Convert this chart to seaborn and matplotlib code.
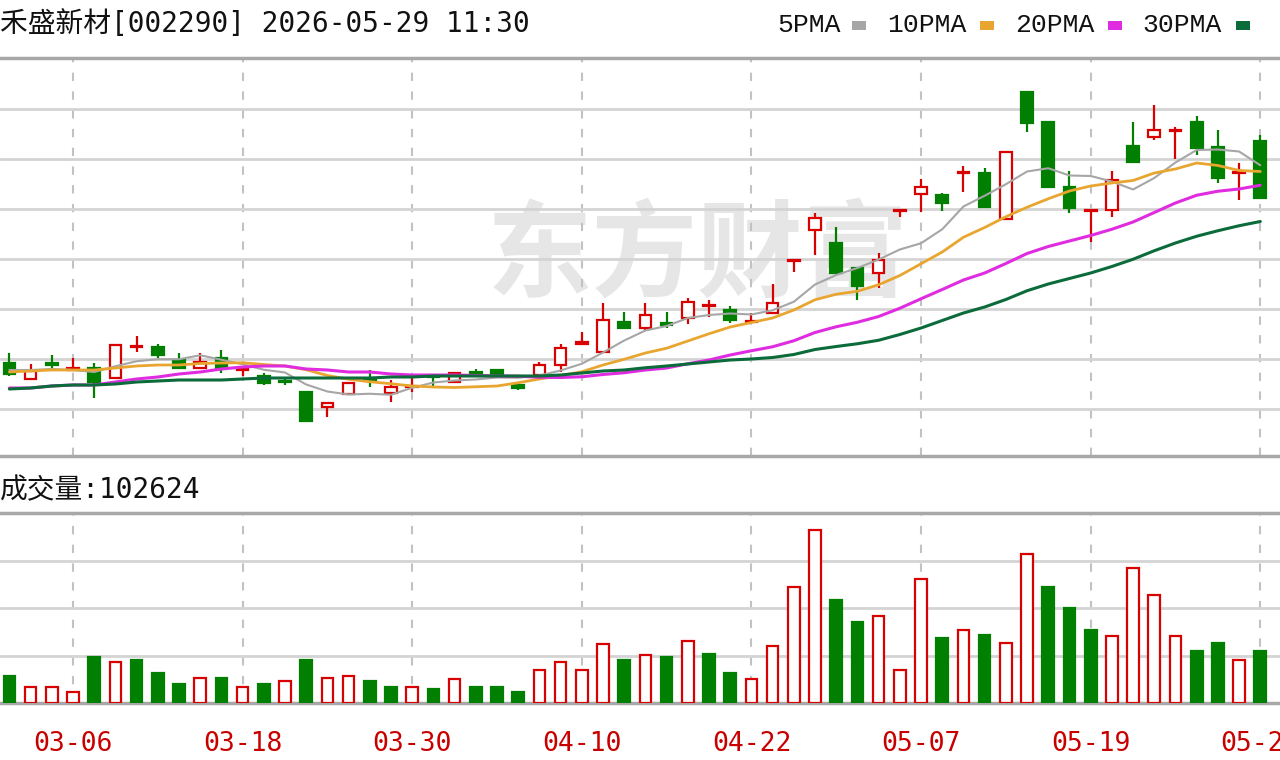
import numpy as np
import pandas as pd
import matplotlib
matplotlib.use('Agg')
import matplotlib.pyplot as plt
import seaborn as sns
from matplotlib.patches import Rectangle

sns.set_theme(style='white')
plt.rcParams['font.family'] = ['DejaVu Sans Mono', 'Noto Sans CJK SC']

# data (price scale is arbitrary, no axis labels shown)
dates = ['03-03', '03-04', '03-05', '03-06', '03-09', '03-10', '03-11', '03-12', '03-13', '03-16',
         '03-17', '03-18', '03-19', '03-20', '03-23', '03-24', '03-25', '03-26', '03-27', '03-30',
         '03-31', '04-01', '04-02', '04-03', '04-07', '04-08', '04-09', '04-10', '04-13', '04-14',
         '04-15', '04-16', '04-17', '04-20', '04-21', '04-22', '04-23', '04-24', '04-27', '04-28',
         '04-29', '04-30', '05-06', '05-07', '05-08', '05-11', '05-12', '05-13', '05-14', '05-15',
         '05-18', '05-19', '05-20', '05-21', '05-22', '05-25', '05-26', '05-27', '05-28', '05-29']
tick_dates = ['03-06', '03-18', '03-30', '04-10', '04-22', '05-07', '05-19', '05-29']

opens = [29.84, 29.20, 29.84, 29.56, 29.64, 29.24, 30.48, 30.48, 29.96, 29.64,
         30.04, 29.56, 29.32, 29.12, 28.68, 28.08, 28.60, 29.20, 28.64, 28.88,
         29.32, 29.08, 29.48, 29.56, 28.96, 29.36, 29.76, 30.60, 30.28, 31.48,
         31.24, 31.44, 31.64, 32.12, 31.96, 31.48, 31.84, 33.92, 35.16, 34.64,
         33.64, 33.44, 35.92, 36.60, 36.56, 37.44, 37.44, 35.60, 40.68, 39.48,
         36.88, 35.92, 35.96, 38.52, 38.88, 39.12, 39.48, 38.48, 37.44, 38.72]
highs = [30.24, 29.80, 30.16, 30.04, 29.84, 30.60, 30.92, 30.60, 30.24, 30.24,
         30.36, 29.68, 29.44, 29.28, 28.72, 28.28, 29.08, 29.56, 29.16, 29.28,
         29.32, 29.48, 29.60, 29.56, 29.04, 29.88, 30.60, 31.08, 32.24, 31.88,
         32.24, 31.88, 32.44, 32.36, 32.12, 31.84, 33.00, 33.96, 35.84, 35.28,
         33.68, 34.24, 35.96, 37.20, 36.64, 37.72, 37.64, 38.28, 40.68, 39.48,
         37.52, 35.96, 37.52, 39.48, 40.16, 39.28, 39.72, 39.16, 37.84, 38.96]
lows = [29.32, 29.16, 29.64, 29.56, 28.44, 29.20, 30.28, 30.04, 29.60, 29.60,
        29.44, 29.32, 28.96, 28.96, 27.52, 27.68, 28.60, 28.88, 28.28, 28.68,
        28.92, 29.08, 29.36, 29.32, 28.76, 29.36, 29.48, 30.60, 30.28, 31.24,
        31.16, 31.24, 31.40, 31.68, 31.44, 31.48, 31.84, 33.48, 34.16, 33.44,
        32.36, 32.84, 35.68, 35.88, 35.92, 36.68, 36.08, 35.56, 39.08, 36.88,
        35.84, 34.68, 35.68, 37.88, 38.76, 38.00, 38.16, 37.04, 36.36, 36.44]
closes = [29.40, 29.52, 29.76, 29.64, 29.08, 30.56, 30.52, 30.16, 29.64, 29.88,
          29.64, 29.64, 29.04, 29.08, 27.52, 28.24, 29.04, 29.16, 28.88, 28.92,
          29.28, 29.44, 29.36, 29.32, 28.84, 29.76, 30.44, 30.68, 31.56, 31.24,
          31.76, 31.36, 32.28, 32.16, 31.56, 31.52, 32.24, 33.96, 35.64, 33.44,
          32.92, 33.96, 35.96, 36.88, 36.24, 37.48, 36.08, 38.28, 39.44, 36.88,
          36.04, 35.96, 37.16, 37.88, 39.16, 39.16, 38.44, 37.24, 37.48, 36.44]

ma5 = [29.56, 29.56, 29.60, 29.56, 29.48, 29.71, 29.91, 29.99, 29.99, 30.15,
       29.97, 29.79, 29.57, 29.46, 28.98, 28.70, 28.58, 28.61, 28.57, 28.85,
       29.06, 29.14, 29.18, 29.26, 29.25, 29.34, 29.54, 29.81, 30.26, 30.74,
       31.14, 31.32, 31.64, 31.76, 31.82, 31.78, 31.95, 32.29, 32.98, 33.36,
       33.64, 33.98, 34.38, 34.63, 35.19, 36.10, 36.53, 36.99, 37.50, 37.63,
       37.34, 37.32, 37.10, 36.78, 37.24, 37.86, 38.36, 38.38, 38.30, 37.75]
ma10 = [29.48, 29.52, 29.56, 29.56, 29.56, 29.64, 29.72, 29.76, 29.76, 29.82,
        29.84, 29.85, 29.78, 29.72, 29.57, 29.34, 29.19, 29.09, 29.01, 28.92,
        28.88, 28.86, 28.89, 28.92, 29.05, 29.20, 29.34, 29.49, 29.76, 29.99,
        30.24, 30.43, 30.72, 31.01, 31.28, 31.46, 31.64, 31.96, 32.37, 32.59,
        32.71, 32.97, 33.34, 33.81, 34.28, 34.87, 35.26, 35.69, 36.07, 36.41,
        36.72, 36.92, 37.04, 37.14, 37.44, 37.60, 37.84, 37.74, 37.54, 37.50]
ma20 = [28.84, 28.84, 28.92, 28.96, 28.96, 29.08, 29.20, 29.28, 29.40, 29.48,
        29.60, 29.68, 29.72, 29.72, 29.60, 29.56, 29.48, 29.48, 29.40, 29.36,
        29.36, 29.36, 29.34, 29.32, 29.31, 29.27, 29.26, 29.29, 29.38, 29.45,
        29.56, 29.64, 29.81, 29.96, 30.16, 30.33, 30.49, 30.73, 31.06, 31.29,
        31.47, 31.70, 32.03, 32.41, 32.78, 33.16, 33.44, 33.82, 34.22, 34.50,
        34.72, 34.94, 35.19, 35.48, 35.86, 36.24, 36.55, 36.71, 36.80, 36.95]
ma30 = [28.80, 28.84, 28.92, 28.96, 28.96, 29.00, 29.08, 29.12, 29.16, 29.16,
        29.16, 29.20, 29.24, 29.24, 29.24, 29.24, 29.24, 29.24, 29.28, 29.28,
        29.32, 29.32, 29.32, 29.32, 29.32, 29.32, 29.36, 29.44, 29.52, 29.56,
        29.65, 29.72, 29.80, 29.88, 29.96, 30.00, 30.06, 30.18, 30.38, 30.50,
        30.61, 30.75, 30.98, 31.24, 31.54, 31.84, 32.08, 32.38, 32.73, 33.00,
        33.22, 33.44, 33.70, 33.99, 34.33, 34.64, 34.91, 35.13, 35.33, 35.50]

volume = [53700, 32000, 32000, 21700, 91300, 81000, 85700, 59300, 38600, 49000,
          49000, 32000, 38600, 44300, 85700, 49000, 53700, 43300, 32000, 32000,
          27300, 47100, 32000, 32000, 22600, 65000, 81000, 65000, 117700, 85700,
          96000, 91300, 122400, 97000, 59300, 47100, 112000, 230700, 342700, 204300,
          161000, 172300, 65000, 246700, 129000, 145000, 134600, 118600, 295600, 230700,
          188300, 145000, 133700, 267400, 214700, 133700, 102600, 118600, 85700, 102624]
vol_up = [0, 1, 1, 1, 0, 1, 0, 0, 0, 1, 0, 1, 0, 1, 0, 1, 1, 0, 0, 1,
          0, 1, 0, 0, 0, 1, 1, 1, 1, 0, 1, 0, 1, 0, 0, 1, 1, 1, 1, 0,
          0, 1, 1, 1, 0, 1, 0, 1, 1, 0, 0, 0, 1, 1, 1, 1, 0, 0, 1, 0]

RED = '#d80000'
GREEN = '#007f00'
GRID = '#d4d4d4'
BORDER = '#a8a8a8'

df = pd.DataFrame({'date': dates, 'open': opens, 'high': highs, 'low': lows,
                   'close': closes, 'vol': volume, 'vol_up': vol_up})
df['idx'] = np.arange(len(df))
df['up'] = df['close'] >= df['open']
df['top'] = df[['open', 'close']].max(axis=1)
df['bot'] = df[['open', 'close']].min(axis=1)

ma = pd.DataFrame({'idx': df['idx'], '5PMA': ma5, '10PMA': ma10, '20PMA': ma20, '30PMA': ma30})
ma_colors = {'5PMA': '#a6a6a6', '10PMA': '#e8a630', '20PMA': '#e02ce0', '30PMA': '#0b6b3a'}
ma_widths = {'5PMA': 1.5, '10PMA': 2.0, '20PMA': 2.2, '30PMA': 2.2}

fig = plt.figure(figsize=(12.8, 7.6), dpi=100)
ax = fig.add_axes([0, 0.4, 1, 0.5237])
axv = fig.add_axes([0, 0.075, 1, 0.25])

xlim = (-0.443, 59.93)
tick_idx = [dates.index(d) for d in tick_dates]

# watermark
ax.text(0.545, 0.50, '东方财富', transform=ax.transAxes, ha='center', va='center',
        fontsize=76, fontweight='bold', color='#e6e6e6', family=['Noto Sans CJK SC'], zorder=0)

# candles
up = df[df['up']]
dn = df[~df['up']]
ax.vlines(up['idx'], up['top'], up['high'], color=RED, lw=1.6, zorder=3)
ax.vlines(up['idx'], up['low'], up['bot'], color=RED, lw=1.6, zorder=3)
ax.vlines(dn['idx'], dn['low'], dn['high'], color=GREEN, lw=1.6, zorder=3)
ax.bar(up['idx'], np.maximum(up['top'] - up['bot'], 0.03), bottom=up['bot'], width=0.55,
       facecolor='white', edgecolor=RED, linewidth=1.6, zorder=4)
ax.bar(dn['idx'], np.maximum(dn['top'] - dn['bot'], 0.03), bottom=dn['bot'], width=0.55,
       facecolor=GREEN, edgecolor=GREEN, linewidth=1.6, zorder=4)

# moving averages
for name in ['5PMA', '10PMA', '20PMA', '30PMA']:
    sns.lineplot(data=ma, x='idx', y=name, color=ma_colors[name], lw=ma_widths[name],
                 ax=ax, zorder=5)

ax.set_xlim(*xlim)
ax.set_ylim(26.12, 42.04)
ax.set_yticks(np.arange(28, 41, 2))
ax.set_xticks(tick_idx)
ax.grid(False)
ax.yaxis.grid(True, color=GRID, lw=2)
ax.xaxis.grid(True, color='#c2c2c2', lw=1.5, ls=(0, (4, 5)))
ax.tick_params(left=False, bottom=False, labelleft=False, labelbottom=False)
ax.set_xlabel('')
ax.set_ylabel('')

# volume
vup = df[df['vol_up'] == 1]
vdn = df[df['vol_up'] == 0]
axv.bar(vup['idx'], vup['vol'], width=0.55, facecolor='white', edgecolor=RED, linewidth=1.6, zorder=3)
axv.bar(vdn['idx'], vdn['vol'], width=0.55, facecolor=GREEN, edgecolor=GREEN, linewidth=1.6, zorder=3)
axv.set_xlim(*xlim)
axv.set_ylim(0, 376600)
axv.set_yticks([94150, 188300, 282450])
axv.set_xticks(tick_idx)
axv.set_xticklabels(tick_dates, color='#c80000', fontsize=19)
axv.grid(False)
axv.yaxis.grid(True, color=GRID, lw=2)
axv.xaxis.grid(True, color='#c2c2c2', lw=1.5, ls=(0, (4, 5)))
axv.tick_params(left=False, bottom=False, labelleft=False, pad=14)

for a in (ax, axv):
    for s in ('left', 'right'):
        a.spines[s].set_visible(False)
    for s in ('top', 'bottom'):
        a.spines[s].set_color(BORDER)
        a.spines[s].set_linewidth(2.5)
    a.set_axisbelow(True)

# header texts
fig.text(0.0, 0.968, '禾盛新材[002290] 2026-05-29 11:30', ha='left', va='center', fontsize=20,
         color='#111111')
fig.text(0.0, 0.355, '成交量:102624', ha='left', va='center', fontsize=20, color='#111111')

legend_items = [('5PMA', 777, 852), ('10PMA', 887, 980), ('20PMA', 1015, 1108), ('30PMA', 1142, 1236)]
for name, tx, sx in legend_items:
    fig.text(tx / 1280, 0.967, name, ha='left', va='center', fontsize=19,
             family=['Liberation Mono'], color='#111111')
    fig.patches.append(Rectangle((sx / 1280, 0.961), 14 / 1280, 9 / 760, transform=fig.transFigure,
                                 facecolor=ma_colors[name], edgecolor='none'))

fig.savefig('out.png', dpi=100)
